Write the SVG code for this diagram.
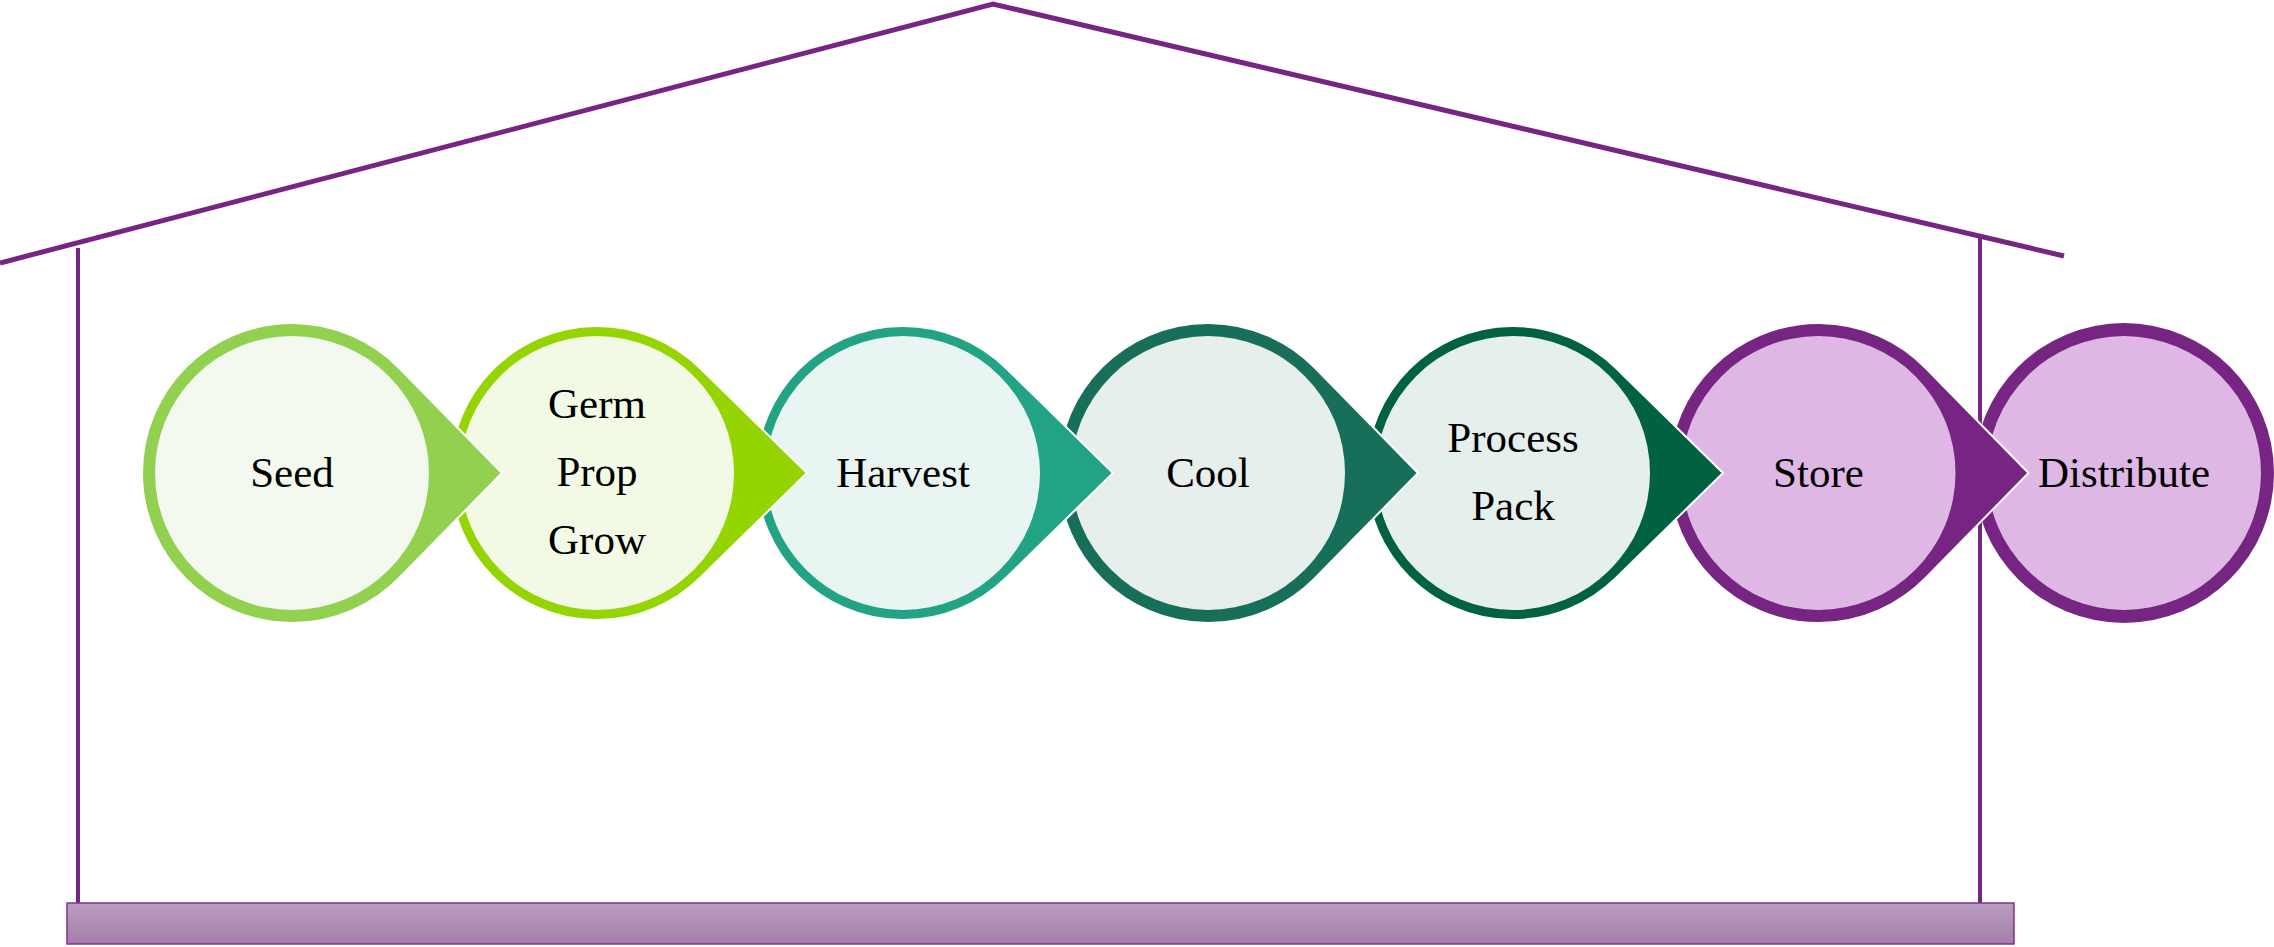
<svg xmlns="http://www.w3.org/2000/svg" xmlns:xlink="http://www.w3.org/1999/xlink" width="2274" height="947" viewBox="0 0 2274 947">
<style>
.house{fill:none;stroke:#772583;stroke-linecap:butt}
.lbl{font-family:"Liberation Serif","Times New Roman",serif;font-size:43px;fill:#000;text-anchor:middle}
.drop{stroke:#ffffff;stroke-width:2;stroke-linejoin:miter}
</style>
<defs>
<path id="dropThick" d="M210,0 L107.14,-104.99 A150,150 0 1 0 107.14,104.99 Z"/>
<path id="dropThin" d="M210,0 L102.9,-104.97 A147,147 0 1 0 102.9,104.97 Z"/>
<linearGradient id="baseGrad" x1="0" y1="0" x2="0" y2="1">
<stop offset="0" stop-color="#B99EC0"/>
<stop offset="1" stop-color="#A47EA9"/>
</linearGradient>
</defs>
<g id="house">
<polyline class="house" stroke-width="5" points="0,263 993,4 2064,256"/>
<line class="house" stroke-width="4" x1="78" y1="248" x2="78" y2="904"/>
<line class="house" stroke-width="4" x1="1980" y1="237" x2="1980" y2="904"/>
<rect x="67" y="903" width="1947" height="41" fill="url(#baseGrad)" stroke="#84308F" stroke-width="1.5"/>
</g>
<g id="nodes">
<g id="distribute">
<circle cx="2124" cy="473" r="150" fill="#772583"/>
<circle cx="2124" cy="473" r="137" fill="#DFB7E4"/>
<text class="lbl" x="2124" y="487">Distribute</text>
</g>
<g id="store">
<use xlink:href="#dropThick" class="drop" x="1818.5" y="473" fill="#772583"/>
<circle cx="1818.5" cy="473" r="137" fill="#DFB7E4"/>
<text class="lbl" x="1818.5" y="487">Store</text>
</g>
<g id="process-pack">
<use xlink:href="#dropThin" class="drop" x="1513" y="473" fill="#006241"/>
<circle cx="1513" cy="473" r="137" fill="#E5EFEB"/>
<text class="lbl" x="1513" y="452">Process</text>
<text class="lbl" x="1513" y="520">Pack</text>
</g>
<g id="cool">
<use xlink:href="#dropThick" class="drop" x="1208" y="473" fill="#176F5A"/>
<circle cx="1208" cy="473" r="137" fill="#E6EFEC"/>
<text class="lbl" x="1208" y="487">Cool</text>
</g>
<g id="harvest">
<use xlink:href="#dropThin" class="drop" x="903" y="473" fill="#22A484"/>
<circle cx="903" cy="473" r="137" fill="#E9F5F2"/>
<text class="lbl" x="903" y="487">Harvest</text>
</g>
<g id="germ-prop-grow">
<use xlink:href="#dropThin" class="drop" x="597" y="473" fill="#94D400"/>
<circle cx="597" cy="473" r="137" fill="#F2FAE6"/>
<text class="lbl" x="597" y="418">Germ</text>
<text class="lbl" x="597" y="486">Prop</text>
<text class="lbl" x="597" y="554">Grow</text>
</g>
<g id="seed">
<use xlink:href="#dropThick" class="drop" x="292" y="473" fill="#92D050"/>
<circle cx="292" cy="473" r="137" fill="#F3F9EE"/>
<text class="lbl" x="292" y="487">Seed</text>
</g>
</g>
<g id="connectors"/>
</svg>
